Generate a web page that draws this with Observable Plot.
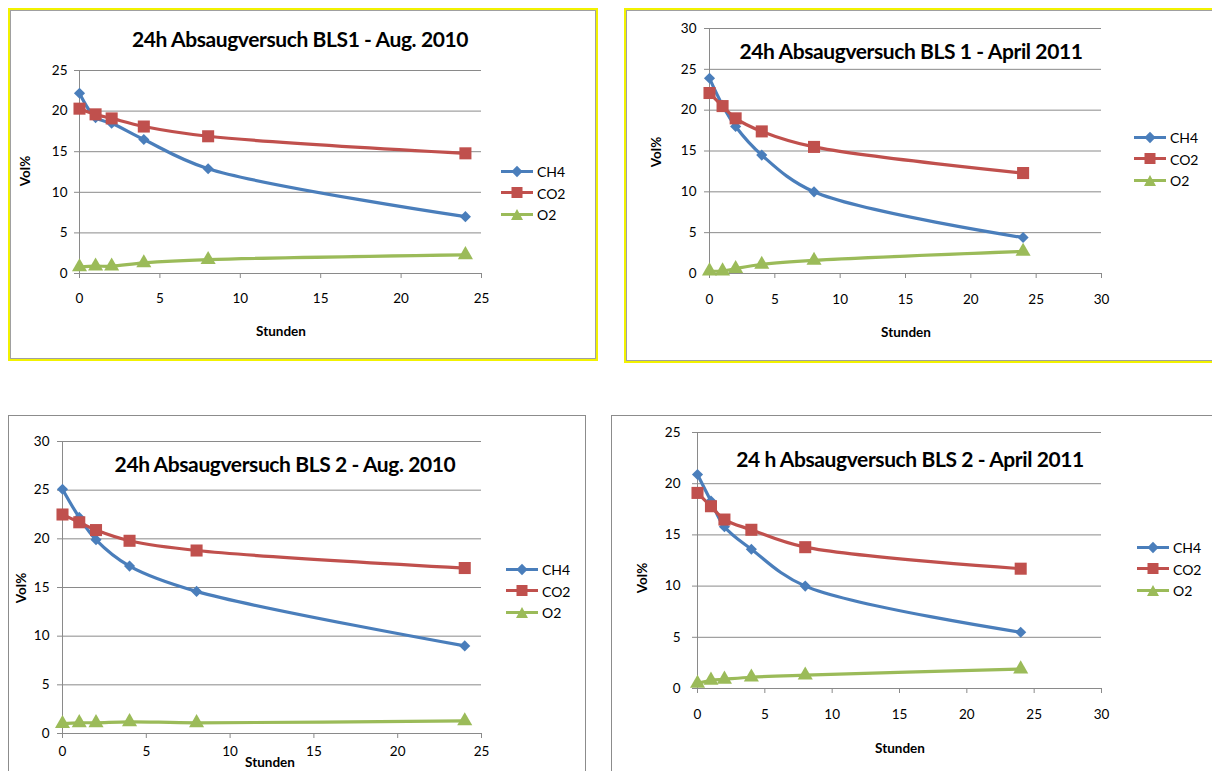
<!DOCTYPE html>
<html>
<head>
<meta charset="utf-8">
<script src="https://cdn.jsdelivr.net/npm/d3@7"></script>
<script src="https://cdn.jsdelivr.net/npm/@observablehq/plot@0.6"></script>
<style>
  html, body { margin: 0; padding: 0; }
  body { width: 1212px; height: 771px; overflow: hidden; background: #fff; position: relative; font-family: Lato, "Open Sans", sans-serif; color: #000; }
  .box { position: absolute; box-sizing: border-box; }
  .box.yellow { border: 2px solid #f2f200; box-shadow: inset 0 0 0 1px #a0a0a0; }
  .box.gray { border: 1px solid #8c8c8c; }
  .chart { position: absolute; }
  .t { position: absolute; white-space: nowrap; transform: translate(-50%, -50%); line-height: 1; }
  .title { font-weight: 700; font-size: 21px; letter-spacing: -0.4px; }
  .xlab { font-weight: 700; font-size: 13.5px; }
  .ylab { font-weight: 700; font-size: 13.5px; transform: translate(-50%, -50%) rotate(-90deg); }
  .legend { position: absolute; font-size: 14px; }
  .legend .row { position: absolute; left: 0; display: flex; align-items: center; transform: translateY(-50%); white-space: nowrap; }
</style>
</head>
<body>
<script>
// ---------- data ----------
const hours = [0, 1, 2, 4, 8, 24];
const seriesNames = ["CH4", "CO2", "O2"];
const seriesColors = ["#4a7ebb", "#c0504d", "#9bbb59"];
const seriesSymbols = ["diamond2", "square", "triangle"];

const titles = [
  "24h Absaugversuch BLS1 - Aug. 2010",
  "24h Absaugversuch BLS 1 - April 2011",
  "24h Absaugversuch BLS 2 - Aug. 2010",
  "24 h Absaugversuch BLS 2 - April 2011"
];
const xLabel = "Stunden";
const yLabel = "Vol%";

// BLS1 - Aug. 2010
const ch4_bls1_aug10 = [22.2, 19.2, 18.5, 16.5, 12.9, 7.0];
const co2_bls1_aug10 = [20.3, 19.6, 19.1, 18.1, 16.9, 14.8];
const o2_bls1_aug10  = [0.8, 0.9, 0.9, 1.3, 1.7, 2.3];
// BLS 1 - April 2011
const ch4_bls1_apr11 = [23.9, 20.6, 18.0, 14.5, 10.0, 4.4];
const co2_bls1_apr11 = [22.1, 20.5, 19.0, 17.4, 15.5, 12.3];
const o2_bls1_apr11  = [0.3, 0.3, 0.6, 1.1, 1.6, 2.7];
// BLS 2 - Aug. 2010
const ch4_bls2_aug10 = [25.1, 22.2, 19.9, 17.2, 14.6, 9.0];
const co2_bls2_aug10 = [22.5, 21.7, 20.9, 19.8, 18.8, 17.0];
const o2_bls2_aug10  = [1.0, 1.1, 1.1, 1.2, 1.1, 1.3];
// BLS 2 - April 2011
const ch4_bls2_apr11 = [20.9, 18.3, 15.8, 13.6, 10.0, 5.5];
const co2_bls2_apr11 = [19.1, 17.8, 16.5, 15.5, 13.8, 11.7];
const o2_bls2_apr11  = [0.5, 0.8, 0.9, 1.1, 1.3, 1.9];

const xMaxes = [25, 30, 25, 30];
const yMaxes = [25, 30, 30, 25];

// ---------- layout (page pixels) ----------
const layouts = [
  { box: {l: 8, t: 8, w: 590, h: 353, cls: "yellow"}, frame: {x0: 79, x1: 481, y0: 70, y1: 273},
    title: [300, 38], ylab: [26, 171], xlab: [281, 332], legend: [501, 171], xPad: 15, yPad: 7 },
  { box: {l: 624, t: 8, w: 620, h: 355, cls: "yellow"}, frame: {x0: 709, x1: 1101, y0: 28, y1: 273},
    title: [911, 50], ylab: [657, 152], xlab: [906, 333], legend: [1134, 137], xPad: 16, yPad: 8 },
  { box: {l: 8, t: 415, w: 578, h: 400, cls: "gray"}, frame: {x0: 62, x1: 481, y0: 441, y1: 733},
    title: [285, 463], ylab: [22, 588], xlab: [270, 763], legend: [506, 569], xPad: 8, yPad: 8 },
  { box: {l: 611, t: 415, w: 620, h: 400, cls: "gray"}, frame: {x0: 697, x1: 1101, y0: 432, y1: 688},
    title: [910, 458], ylab: [643, 578], xlab: [900, 749], legend: [1137, 547], xPad: 16, yPad: 12 }
];

const panelValues = [
  [ch4_bls1_aug10, co2_bls1_aug10, o2_bls1_aug10],
  [ch4_bls1_apr11, co2_bls1_apr11, o2_bls1_apr11],
  [ch4_bls2_aug10, co2_bls2_aug10, o2_bls2_aug10],
  [ch4_bls2_apr11, co2_bls2_apr11, o2_bls2_apr11]
];

const GRID = "#8a8a8a";
const FONT = "Lato, 'Open Sans', sans-serif";
const dotR = {diamond2: 5.0, square: 6.8, triangle: 5.6};

function el(tag, cls, parent) { const e = document.createElement(tag); if (cls) e.className = cls; (parent || document.body).appendChild(e); return e; }

layouts.forEach((L, p) => {
  // border box
  const b = el("div", "box " + L.box.cls);
  Object.assign(b.style, {left: L.box.l + "px", top: L.box.t + "px", width: L.box.w + "px", height: L.box.h + "px"});

  // plot
  const f = L.frame, mL = 50, mT = 14, mR = 14, mB = 45;
  const rows = [];
  seriesNames.forEach((s, i) => panelValues[p][i].forEach((v, j) => rows.push({hour: hours[j], value: v, series: s})));
  const xt = d3.range(0, xMaxes[p] + 1, 5), yt = d3.range(0, yMaxes[p] + 1, 5);
  const chart = Plot.plot({
    width: f.x1 - f.x0 + mL + mR,
    height: f.y1 - f.y0 + mT + mB,
    marginLeft: mL, marginTop: mT, marginRight: mR, marginBottom: mB,
    style: {fontFamily: FONT, fontSize: "13.5px", color: "#000", background: "transparent", overflow: "visible"},
    x: {domain: [0, xMaxes[p]]},
    y: {domain: [0, yMaxes[p]]},
    color: {domain: seriesNames, range: seriesColors},
    marks: [
      Plot.ruleY(yt, {stroke: GRID, strokeWidth: 1}),
      Plot.ruleX([0], {stroke: GRID, strokeWidth: 1}),
      Plot.axisY({ticks: yt, tickSize: 5, tickPadding: L.yPad, stroke: GRID, fill: "#000", label: null, tickFormat: d => String(d)}),
      Plot.axisX({ticks: xt, tickSize: 5, tickPadding: L.xPad, stroke: GRID, fill: "#000", label: null, tickFormat: d => String(d)}),
      ...seriesNames.map(s => Plot.line(rows.filter(r => r.series === s), {x: "hour", y: "value", stroke: "series", curve: "catmull-rom", strokeWidth: 3.2})),
      ...seriesNames.map((s, i) => Plot.dot(rows.filter(r => r.series === s), {x: "hour", y: "value", fill: "series", symbol: () => seriesSymbols[i], r: dotR[seriesSymbols[i]], stroke: "none"}))
    ],
    symbol: {domain: seriesSymbols, range: seriesSymbols}
  });
  const wrap = el("div", "chart");
  Object.assign(wrap.style, {left: (f.x0 - mL) + "px", top: (f.y0 - mT) + "px"});
  wrap.appendChild(chart);

  // texts
  const tt = el("div", "t title"); tt.textContent = titles[p];
  Object.assign(tt.style, {left: L.title[0] + "px", top: L.title[1] + "px"});
  const yl = el("div", "t ylab"); yl.textContent = yLabel;
  Object.assign(yl.style, {left: L.ylab[0] + "px", top: L.ylab[1] + "px"});
  const xl = el("div", "t xlab"); xl.textContent = xLabel;
  Object.assign(xl.style, {left: L.xlab[0] + "px", top: L.xlab[1] + "px"});

  // legend
  const lg = el("div", "legend");
  Object.assign(lg.style, {left: L.legend[0] + "px", top: L.legend[1] + "px"});
  seriesNames.forEach((s, i) => {
    const row = el("div", "row", lg);
    row.style.top = (i * 21.5) + "px";
    const c = seriesColors[i];
    let m;
    if (i === 0) m = `<rect x="12" y="3" width="8" height="8" transform="rotate(45 16 7)" fill="${c}"/>`;
    else if (i === 1) m = `<rect x="10.5" y="1.5" width="11" height="11" fill="${c}"/>`;
    else m = `<path d="M16 1.5 L22 12.5 L10 12.5 Z" fill="${c}"/>`;
    row.innerHTML = `<svg width="34" height="14" style="display:block"><line x1="0" y1="7" x2="32" y2="7" stroke="${c}" stroke-width="3.2"/>${m}</svg><span style="margin-left:2px">${s}</span>`;
  });
});
</script>
</body>
</html>
